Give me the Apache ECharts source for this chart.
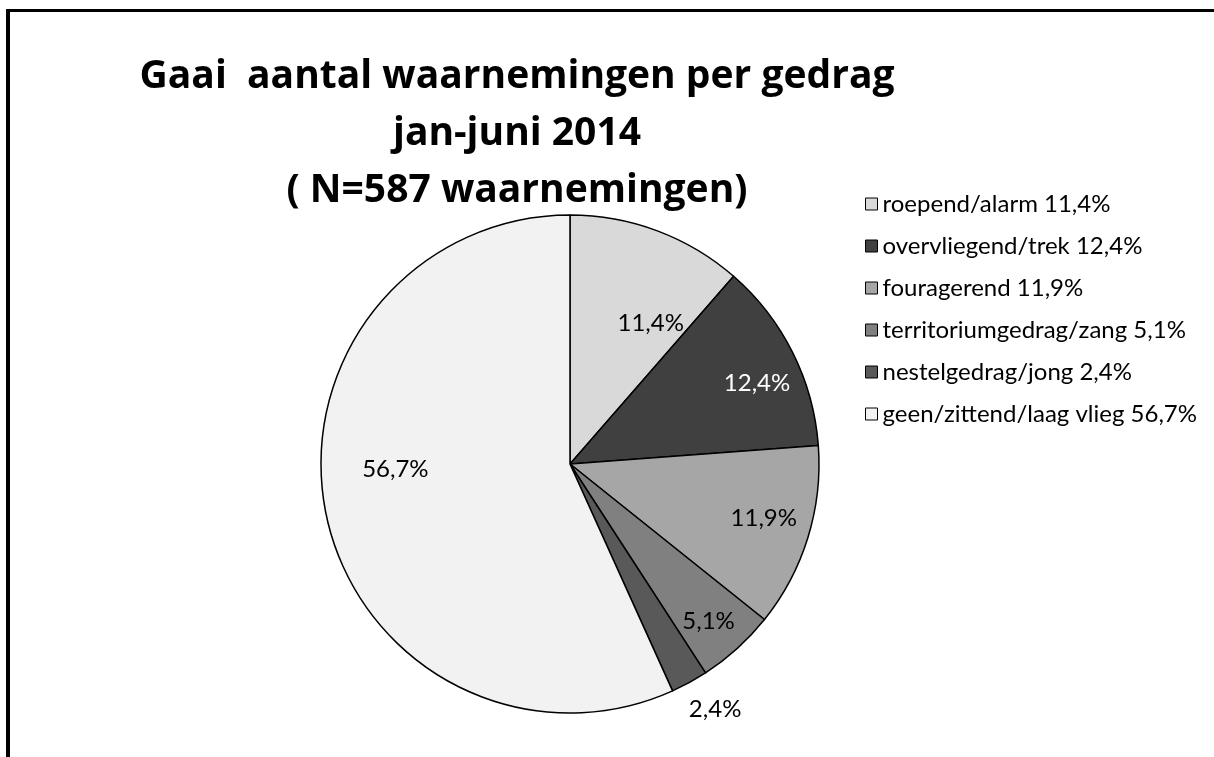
<!DOCTYPE html>
<html>
<head>
<meta charset="utf-8">
<script src="https://cdn.jsdelivr.net/npm/echarts@6/dist/echarts.min.js"></script>
<style>
html,body{margin:0;padding:0;background:#fff;}
#chart{width:1214px;height:757px;}
</style>
</head>
<body>
<div id="chart"></div>
<script>
const titleText = "Gaai  aantal waarnemingen per gedrag\njan-juni 2014\n( N=587 waarnemingen)";
const categories = ["roepend/alarm", "overvliegend/trek", "fouragerend", "territoriumgedrag/zang", "nestelgedrag/jong", "geen/zittend/laag vlieg"];
const values = [11.4, 12.4, 11.9, 5.1, 2.4, 56.7];
const colors = ["#d9d9d9", "#404040", "#a6a6a6", "#808080", "#595959", "#f2f2f2"];
const labelColors = ["#000", "#fff", "#000", "#000", "#000", "#000"];
const labelOffsets = [[36, -21], [73, -24], [72, 17], [53, 63], [84, 133], [-50, -22]];

const fmt = v => v.toFixed(1).replace('.', ',') + '%';
const FONT = 'Lato, "Open Sans", sans-serif';

const chart = echarts.init(document.getElementById('chart'), null, {renderer: 'canvas'});
chart.setOption({
  animation: false,
  backgroundColor: '#fff',
  title: {
    text: titleText,
    left: 512,
    top: 43,
    textAlign: 'center',
    textStyle: {fontFamily: '"Open Sans", Lato, sans-serif', fontSize: 39, fontWeight: 'bold', color: '#000', lineHeight: 57}
  },
  legend: {
    orient: 'vertical',
    left: 860,
    top: 187,
    itemWidth: 12,
    itemHeight: 12,
    itemGap: 18,
    icon: 'rect',
    data: categories,
    formatter: name => name + ' ' + fmt(values[categories.indexOf(name)]),
    textStyle: {fontFamily: FONT, fontSize: 24, color: '#000'},
    itemStyle: {borderColor: '#000', borderWidth: 1}
  },
  graphic: [
    {type: 'line', shape: {x1: 8, y1: 9, x2: 8, y2: 757}, style: {stroke: '#000', lineWidth: 4}},
    {type: 'line', shape: {x1: 6, y1: 10.5, x2: 1214, y2: 10.5}, style: {stroke: '#000', lineWidth: 3}}
  ],
  series: [{
    type: 'pie',
    center: [570, 464],
    radius: [0, 249],
    startAngle: 90,
    clockwise: true,
    avoidLabelOverlap: false,
    itemStyle: {borderColor: '#000', borderWidth: 1.5},
    label: {show: true, position: 'inside', fontFamily: FONT, fontSize: 24, formatter: p => fmt(p.value)},
    labelLine: {show: false},
    emphasis: {disabled: true},
    data: categories.map((c, i) => ({
      name: c,
      value: values[i],
      itemStyle: {color: colors[i]},
      label: {color: labelColors[i], offset: labelOffsets[i]}
    }))
  }]
});
</script>
</body>
</html>
